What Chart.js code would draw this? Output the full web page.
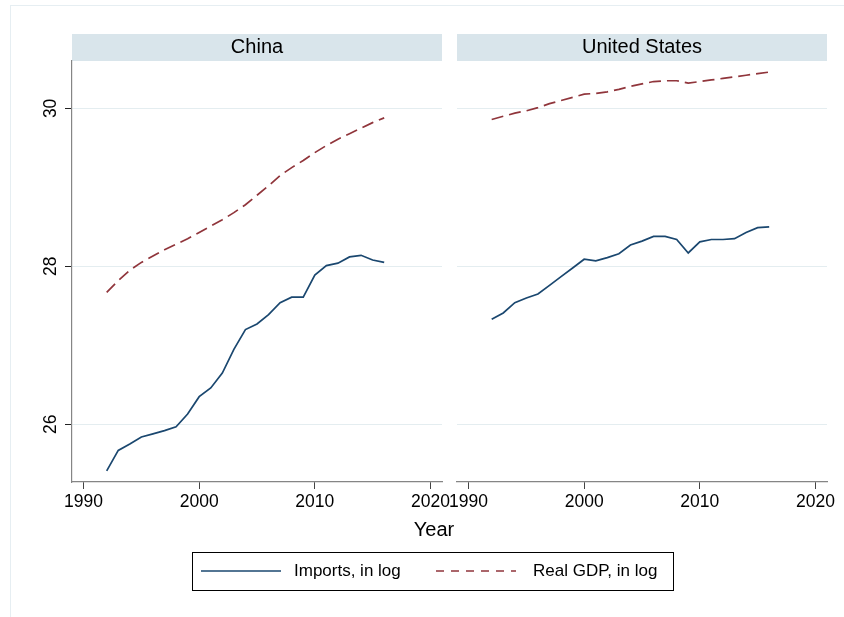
<!DOCTYPE html>
<html>
<head>
<meta charset="utf-8">
<script src="https://cdn.jsdelivr.net/npm/chart.js@4.4.1/dist/chart.umd.min.js"></script>
<style>
  body { margin: 0; background: #fff; font-family: "Liberation Sans", Arial, Helvetica, sans-serif; }
  #wrap { position: relative; width: 844px; height: 617px; overflow: hidden; }
  #frame { position: absolute; left: 10px; top: 5px; width: 850px; height: 620px; border: 1px solid #e6eef2; }
  canvas.panel { position: absolute; top: 0; }
  #xtitle { position: absolute; left: 384px; width: 100px; top: 518px; line-height: 23px; text-align: center; font-size: 20px; color: #000; }
  #legend { position: absolute; left: 192px; top: 552px; width: 480px; height: 37px; border: 1px solid #000; }
  .lg-line { position: absolute; }
  .lg-text { position: absolute; font-size: 17px; line-height: 20px; color: #000; white-space: nowrap; }
</style>
</head>
<body>
<div id="wrap">
  <div id="frame"></div>
  <canvas id="china" class="panel" width="452" height="520" style="left:0px"></canvas>
  <canvas id="us" class="panel" width="404" height="520" style="left:440px"></canvas>
  <div id="xtitle">Year</div>
  <div id="legend"></div>
</div>
<script>
// data
const years = [1992, 1993, 1994, 1995, 1996, 1997, 1998, 1999, 2000, 2001, 2002, 2003, 2004,
               2005, 2006, 2007, 2008, 2009, 2010, 2011, 2012, 2013, 2014, 2015, 2016];
const chinaImports = [25.41, 25.67, 25.75, 25.84, 25.88, 25.92, 25.97, 26.13, 26.35, 26.46, 26.65, 26.95, 27.20,
                      27.27, 27.39, 27.54, 27.61, 27.61, 27.89, 28.01, 28.04, 28.12, 28.14, 28.08, 28.05];
const chinaGdp = [27.67, 27.82, 27.95, 28.05, 28.13, 28.21, 28.28, 28.35, 28.43, 28.51, 28.59, 28.68, 28.78,
                  28.90, 29.02, 29.15, 29.25, 29.34, 29.44, 29.53, 29.61, 29.68, 29.75, 29.82, 29.88];
const usImports = [27.33, 27.41, 27.54, 27.60, 27.65, 27.76, 27.87, 27.98, 28.09, 28.07, 28.11, 28.16, 28.27,
                   28.32, 28.38, 28.38, 28.34, 28.17, 28.31, 28.34, 28.34, 28.35, 28.43, 28.49, 28.50];
const usGdp = [29.86, 29.90, 29.94, 29.97, 30.01, 30.06, 30.10, 30.14, 30.18, 30.19, 30.21, 30.24, 30.28,
               30.31, 30.34, 30.35, 30.35, 30.32, 30.34, 30.36, 30.38, 30.40, 30.42, 30.44, 30.46];
const panels = ["China", "United States"];
const seriesNames = ["Imports, in log", "Real GDP, in log"];
const xTicks = [1990, 2000, 2010, 2020];
const yTicks = [26, 28, 30];

const FONT = '"Liberation Sans", Arial, Helvetica, sans-serif';
const colImports = "#1a476f";
const colGdp = "#90353b";
const gridCol = "#e4edf0";

// grey title bar above each panel
const headerPlugin = {
    id: "panelHeader",
    beforeDraw(chart, args, opts) {
        const { ctx, chartArea } = chart;
        ctx.save();
        ctx.fillStyle = "#d9e5eb";
        ctx.fillRect(chartArea.left, 34, chartArea.right - chartArea.left, 27);
        ctx.fillStyle = "#000";
        ctx.font = "20px " + FONT;
        ctx.textAlign = "center";
        ctx.textBaseline = "alphabetic";
        ctx.fillText(opts.text, (chartArea.left + chartArea.right) / 2, 52.5);
        ctx.restore();
    },
};

function points(vals) {
    return years.map((yr, i) => ({ x: yr, y: vals[i] }));
}

function makePanel(id, name, imp, gdp, showY, pad) {
    return new Chart(document.getElementById(id), {
        type: "line",
        data: {
            datasets: [{
                label: seriesNames[0],
                data: points(imp),
                borderColor: colImports,
                borderWidth: 1.7,
                pointRadius: 0,
                fill: false,
            }, {
                label: seriesNames[1],
                data: points(gdp),
                borderColor: colGdp,
                borderWidth: 1.7,
                borderDash: [12, 6],
                pointRadius: 0,
                fill: false,
            }],
        },
        options: {
            responsive: false,
            devicePixelRatio: 1,
            animation: false,
            events: [],
            layout: { padding: pad },
            plugins: {
                legend: { display: false },
                tooltip: { enabled: false },
                panelHeader: { text: name },
            },
            scales: {
                x: {
                    type: "linear",
                    min: 1989,
                    max: 2021,
                    afterBuildTicks: (s) => { s.ticks = xTicks.map((v) => ({ value: v })); },
                    afterFit: (s) => { s.height = 38; s.paddingLeft = 0; s.paddingRight = 0; },
                    ticks: {
                        autoSkip: false,
                        maxRotation: 0,
                        padding: 3,
                        color: "#000",
                        font: { family: FONT, size: 17.5 },
                        callback: (v) => String(v),
                    },
                    grid: { drawOnChartArea: false, tickLength: 7, tickColor: "#444", tickWidth: 1 },
                    border: { color: "#858585", width: 1.2 },
                },
                y: {
                    min: 25.27,
                    max: 30.6,
                    afterBuildTicks: (s) => { s.ticks = yTicks.map((v) => ({ value: v })); },
                    afterFit: (s) => { s.width = showY ? 72 : 0; s.paddingTop = 0; s.paddingBottom = 0; },
                    ticks: {
                        display: showY,
                        minRotation: 90,
                        maxRotation: 90,
                        crossAlign: "center",
                        padding: 4,
                        color: "#000",
                        font: { family: FONT, size: 17.5 },
                        callback: (v) => String(v),
                    },
                    grid: { color: gridCol, lineWidth: 1, drawTicks: showY, tickLength: 7, tickColor: "#222" },
                    border: { display: showY, color: "#858585", width: 1.2 },
                },
            },
        },
        plugins: [headerPlugin],
    });
}

makePanel("china", panels[0], chinaImports, chinaGdp, true, { left: 0, top: 61, right: 10, bottom: 0 });
makePanel("us", panels[1], usImports, usGdp, false, { left: 17, top: 61, right: 17, bottom: 0 });

// legend below both panels
const legend = document.getElementById("legend");
const legendItems = [
    { text: seriesNames[0], color: colImports, dash: [], lineX: 8, textX: 101 },
    { text: seriesNames[1], color: colGdp, dash: [8, 7], lineX: 243, textX: 340 },
];
legendItems.forEach(function(item) {
    let c = document.createElement("canvas");
    c.className = "lg-line";
    c.width = 80;
    c.height = 6;
    c.style.left = item.lineX + "px";
    c.style.top = "15px";
    let g = c.getContext("2d");
    g.strokeStyle = item.color;
    g.lineWidth = 1.6;
    g.setLineDash(item.dash);
    g.beginPath();
    g.moveTo(0, 3);
    g.lineTo(80, 3);
    g.stroke();
    legend.appendChild(c);

    let t = document.createElement("div");
    t.className = "lg-text";
    t.textContent = item.text;
    t.style.left = item.textX + "px";
    t.style.top = "8px";
    legend.appendChild(t);
});
</script>
</body>
</html>
